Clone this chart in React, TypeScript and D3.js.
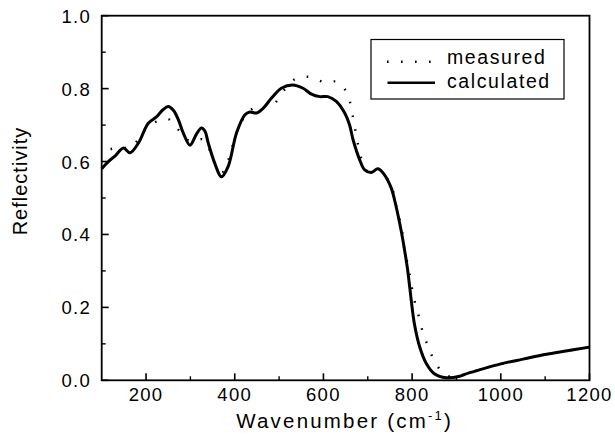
import React from "react";
import * as d3 from "d3";

// Data
const calcWave = [100, 115, 130, 149, 164, 183, 205, 224, 238, 250, 262, 273, 284, 299, 314, 325, 333, 340, 355, 370, 385, 404, 423, 434, 449, 464, 483, 505, 531, 554, 573, 592, 610, 629, 648, 659, 667, 682, 693, 708, 723, 738, 753, 764, 775, 783, 790, 798, 805, 817, 832, 850, 877, 907, 920, 950, 1000, 1050, 1100, 1150, 1200];
const calcRefl = [0.580, 0.600, 0.615, 0.637, 0.624, 0.651, 0.705, 0.723, 0.742, 0.751, 0.740, 0.714, 0.678, 0.645, 0.676, 0.692, 0.683, 0.652, 0.595, 0.558, 0.586, 0.678, 0.728, 0.736, 0.733, 0.746, 0.774, 0.801, 0.810, 0.801, 0.785, 0.778, 0.778, 0.765, 0.733, 0.700, 0.659, 0.604, 0.577, 0.570, 0.580, 0.563, 0.527, 0.476, 0.412, 0.357, 0.302, 0.220, 0.156, 0.092, 0.046, 0.018, 0.007, 0.011, 0.017, 0.028, 0.045, 0.058, 0.071, 0.081, 0.091];

const measWave = [120, 132, 148, 164, 185, 200, 216, 232, 249, 262, 275, 290, 305, 327, 340, 355, 365, 374, 387, 404, 423, 440, 454, 470, 485, 509, 537, 569, 601, 633, 653, 663, 668, 674, 680, 689, 700, 710, 723, 738, 755, 762, 770, 777, 781, 788, 794, 799, 805, 814, 822, 833, 846, 865, 880, 900, 920, 950, 1000, 1050, 1100, 1150, 1200];
const measRefl = [0.634, 0.637, 0.638, 0.637, 0.665, 0.690, 0.705, 0.713, 0.717, 0.705, 0.684, 0.662, 0.655, 0.661, 0.640, 0.597, 0.572, 0.572, 0.609, 0.678, 0.725, 0.745, 0.754, 0.750, 0.753, 0.792, 0.827, 0.832, 0.818, 0.818, 0.788, 0.747, 0.711, 0.673, 0.635, 0.595, 0.572, 0.570, 0.580, 0.563, 0.527, 0.490, 0.449, 0.412, 0.371, 0.330, 0.293, 0.258, 0.220, 0.180, 0.141, 0.102, 0.064, 0.026, 0.012, 0.010, 0.017, 0.028, 0.045, 0.058, 0.071, 0.081, 0.091];

const xMajor = [200, 400, 600, 800, 1000, 1200];
const xMinor = [300, 500, 700, 900, 1100];
const yMajor = [0, 0.2, 0.4, 0.6, 0.8, 1.0];
const yMinor = [0.1, 0.3, 0.5, 0.7, 0.9];
const legendLabels = ["measured", "calculated"];

const W = 615, H = 439;
const L = 101.7, R = 589.5, T = 15.7, B = 380.3;
const FONT = "'Liberation Sans', Arial, Helvetica, sans-serif";

export default function App() {
  const x = d3.scaleLinear().domain([100, 1200]).range([L, R]);
  const y = d3.scaleLinear().domain([0, 1]).range([B, T]);
  const line = d3
    .line<[number, number]>()
    .x((d) => x(d[0]))
    .y((d) => y(d[1]))
    .curve(d3.curveCatmullRom.alpha(0.5));
  const calc = calcWave.map((w, i) => [w, calcRefl[i]] as [number, number]);
  const meas = measWave.map((w, i) => [w, measRefl[i]] as [number, number]);

  return (
    <svg
      width={W}
      height={H}
      style={{ position: "absolute", left: 0, top: 0, background: "#fff" }}
      fontFamily={FONT}
    >
      <rect x={0} y={0} width={W} height={H} fill="#fff" />
      {/* data */}
      <path d={line(meas) || ""} fill="none" stroke="#000" strokeWidth={2.4} strokeDasharray="1.6 12.4" />
      <path d={line(calc) || ""} fill="none" stroke="#000" strokeWidth={3} strokeLinejoin="round" />

      {/* frame */}
      <rect x={L} y={T} width={R - L} height={B - T} fill="none" stroke="#000" strokeWidth={1.8} />

      {/* x ticks */}
      {xMajor.map((v) => (
        <g key={"xm" + v}>
          <line x1={x(v)} x2={x(v)} y1={B} y2={B - 7} stroke="#000" strokeWidth={1.6} />
          <text x={x(v)} y={401} textAnchor="middle" fontSize={18.5} letterSpacing={1.3} fill="#000">
            {v}
          </text>
        </g>
      ))}
      {xMinor.map((v) => (
        <line key={"xn" + v} x1={x(v)} x2={x(v)} y1={B} y2={B - 4} stroke="#000" strokeWidth={1.4} />
      ))}

      {/* y ticks */}
      {yMajor.map((v) => (
        <g key={"ym" + v}>
          <line x1={L} x2={L + 7} y1={y(v)} y2={y(v)} stroke="#000" strokeWidth={1.6} />
          <text x={91} y={y(v) + 7} textAnchor="end" fontSize={18.5} letterSpacing={1.3} fill="#000">
            {v.toFixed(1)}
          </text>
        </g>
      ))}
      {yMinor.map((v) => (
        <line key={"yn" + v} x1={L} x2={L + 4} y1={y(v)} y2={y(v)} stroke="#000" strokeWidth={1.4} />
      ))}

      {/* axis titles */}
      <text x={(L + R) / 2 - 1} y={428} textAnchor="middle" fontSize={20.5} letterSpacing={2.2} fill="#000">
        Wavenumber (cm
        <tspan fontSize={13} dy={-8}>-1</tspan>
        <tspan dy={8}>)</tspan>
      </text>
      <text
        transform={`translate(27, 181) rotate(-90)`}
        textAnchor="middle"
        fontSize={20}
        letterSpacing={1}
        fill="#000"
      >
        Reflectivity
      </text>

      {/* legend */}
      <rect x={371} y={39.5} width={193} height={59.5} fill="#fff" stroke="#000" strokeWidth={1.2} />
      <line x1={387} x2={432} y1={61.7} y2={61.7} stroke="#000" strokeWidth={2.4} strokeDasharray="1.6 12.4" />
      <line x1={387.5} x2={435} y1={82.7} y2={82.7} stroke="#000" strokeWidth={2.6} />
      <text x={447} y={63.5} fontSize={19.5} letterSpacing={1.6} fill="#000">
        {legendLabels[0]}
      </text>
      <text x={447} y={87.5} fontSize={19.5} letterSpacing={1.6} fill="#000">
        {legendLabels[1]}
      </text>
    </svg>
  );
}
